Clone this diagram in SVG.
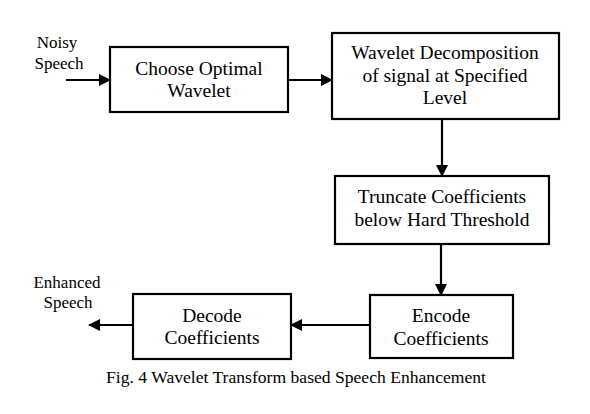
<svg xmlns="http://www.w3.org/2000/svg" width="590" height="414" viewBox="0 0 590 414">
<style>
.box{fill:#fff;stroke:#000;stroke-width:2.2}
.c{stroke:#000;stroke-width:2.2;fill:none}
</style>
<defs>
<marker id="ah" markerWidth="12" markerHeight="12" refX="11" refY="6" orient="auto" markerUnits="userSpaceOnUse">
<path d="M0,0 L12,6 L0,12 Z" fill="#000"/>
</marker>
</defs>
<rect width="590" height="414" fill="#fff"/>
<g id="connectors">
<line class="c" x1="66" y1="80" x2="110" y2="80" marker-end="url(#ah)"/>
<line class="c" x1="288" y1="80" x2="332" y2="80" marker-end="url(#ah)"/>
<line class="c" x1="442" y1="119" x2="442" y2="176" marker-end="url(#ah)"/>
<line class="c" x1="441" y1="244" x2="441" y2="295" marker-end="url(#ah)"/>
<line class="c" x1="370" y1="325" x2="291" y2="325" marker-end="url(#ah)"/>
<line class="c" x1="133" y1="325" x2="89" y2="325" marker-end="url(#ah)"/>
</g>
<g font-family="Liberation Serif" fill="#000" text-anchor="middle">
<g id="noisy-speech" font-size="17">
<text x="57" y="48">Noisy</text>
<text x="59" y="69">Speech</text>
</g>
<g id="choose-wavelet" font-size="19.5">
<rect class="box" x="110" y="47" width="178" height="65"/>
<text x="199" y="75">Choose Optimal</text>
<text x="199" y="97">Wavelet</text>
</g>
<g id="decomposition" font-size="19.5">
<rect class="box" x="332" y="33" width="227" height="86"/>
<text x="445" y="59">Wavelet Decomposition</text>
<text x="445" y="82">of signal at Specified</text>
<text x="445" y="104">Level</text>
</g>
<g id="truncate" font-size="19.5">
<rect class="box" x="335" y="176" width="214" height="68"/>
<text x="442" y="203">Truncate Coefficients</text>
<text x="442" y="226">below Hard Threshold</text>
</g>
<g id="encode" font-size="19.5">
<rect class="box" x="370" y="295" width="143" height="63"/>
<text x="441" y="322">Encode</text>
<text x="441" y="345">Coefficients</text>
</g>
<g id="decode" font-size="19.5">
<rect class="box" x="133" y="294" width="158" height="65"/>
<text x="212" y="322">Decode</text>
<text x="212" y="344">Coefficients</text>
</g>
<g id="enhanced-speech" font-size="17">
<text x="67" y="288">Enhanced</text>
<text x="68" y="308">Speech</text>
</g>
<text x="296" y="383" font-size="17.6">Fig. 4 Wavelet Transform based Speech Enhancement</text>
</g>
</svg>
